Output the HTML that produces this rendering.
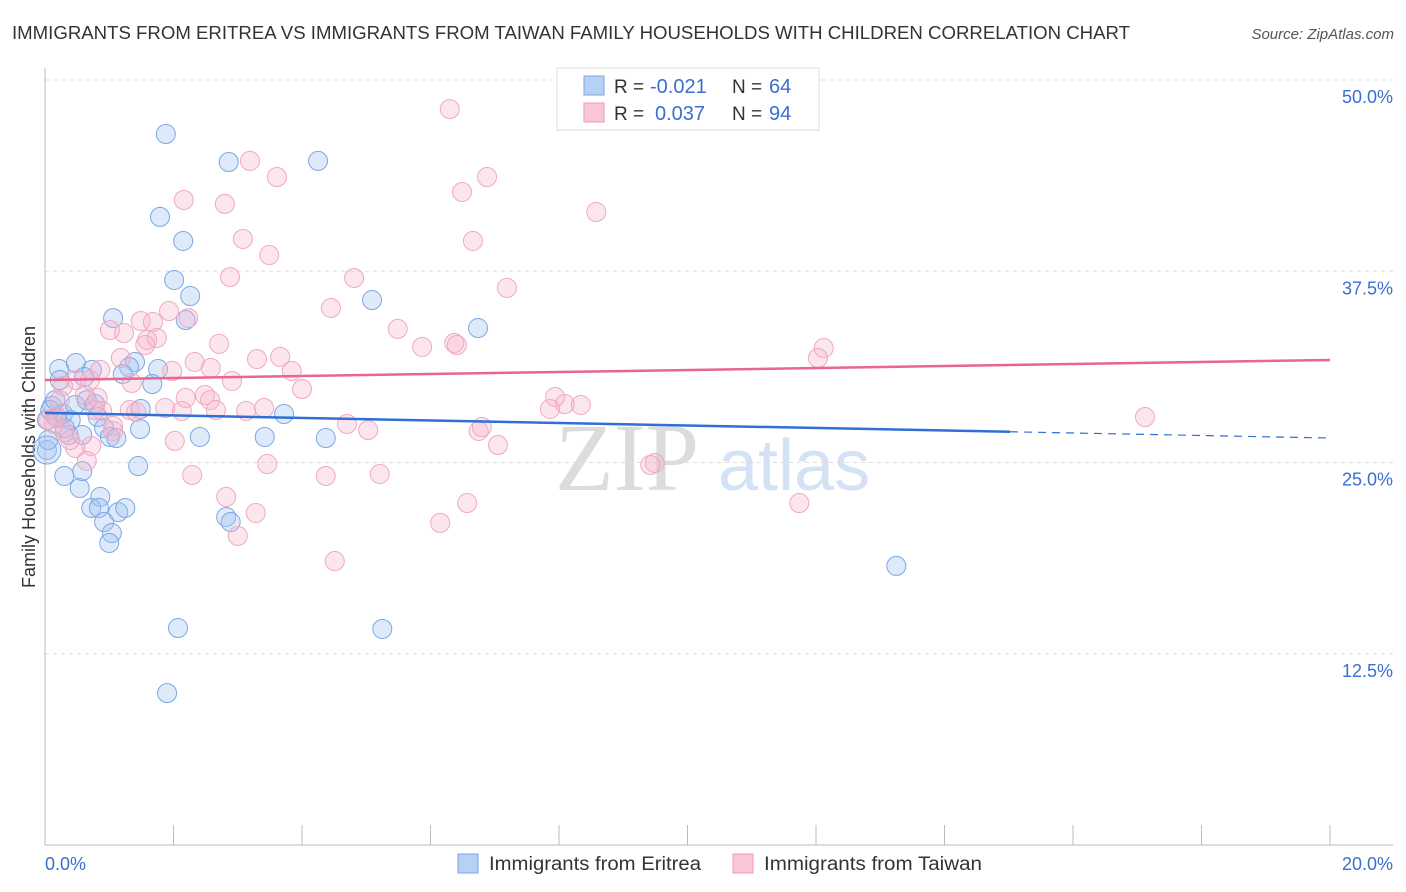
<!DOCTYPE html>
<html><head><meta charset="utf-8">
<style>
body{margin:0;background:#fff;font-family:"Liberation Sans",sans-serif;}
svg{display:block}
</style></head>
<body>
<svg id="chart" width="1406" height="892">
<text x="12" y="39" font-size="18" fill="#333" textLength="1118" lengthAdjust="spacingAndGlyphs">IMMIGRANTS FROM ERITREA VS IMMIGRANTS FROM TAIWAN FAMILY HOUSEHOLDS WITH CHILDREN CORRELATION CHART</text>
<text x="1394" y="39" font-size="15" fill="#555" font-style="italic" text-anchor="end">Source: ZipAtlas.com</text>
<text x="35" y="457" font-size="18" fill="#333" text-anchor="middle" transform="rotate(-90 35 457)">Family Households with Children</text>
<text x="555" y="490" font-size="96" fill="#dcdcdc" font-family="Liberation Serif,serif">ZIP</text>
<text x="718" y="490" font-size="72" fill="#d3e2f5">atlas</text>
<g id="grid"></g>
<g id="axes"></g>
<g id="pts"></g>
<g id="trends"></g>
<g>
<rect x="557" y="68" width="262" height="62" fill="#fff" stroke="#ddd"/>
<rect x="584" y="76" width="20" height="19" fill="#b7d1f3" stroke="#7aa6e2"/>
<rect x="584" y="103" width="20" height="19" fill="#f9c6d6" stroke="#ee9ab8"/>
<text x="614" y="93" font-size="19" fill="#333">R =</text>
<text x="650" y="93" font-size="20" fill="#3a6fd0">-0.021</text>
<text x="732" y="93" font-size="19" fill="#333">N =</text>
<text x="769" y="93" font-size="20" fill="#3a6fd0">64</text>
<text x="614" y="120" font-size="19" fill="#333">R =</text>
<text x="655" y="120" font-size="20" fill="#3a6fd0">0.037</text>
<text x="732" y="120" font-size="19" fill="#333">N =</text>
<text x="769" y="120" font-size="20" fill="#3a6fd0">94</text>
</g>
<g>
<rect x="458" y="854" width="20" height="19" fill="#b7d1f3" stroke="#7aa6e2"/>
<text x="489" y="870" font-size="19" fill="#333" textLength="212" lengthAdjust="spacingAndGlyphs">Immigrants from Eritrea</text>
<rect x="733" y="854" width="20" height="19" fill="#f9c6d6" stroke="#ee9ab8"/>
<text x="764" y="870" font-size="19" fill="#333" textLength="218" lengthAdjust="spacingAndGlyphs">Immigrants from Taiwan</text>
</g>
</svg>
<script>
const blueX=[1.88,2.86,4.25,1.79,2.15,2.01,2.26,5.09,1.06,2.19,6.74,0.22,0.48,0.73,1.40,1.31,1.76,1.21,1.67,0.23,0.61,0.11,0.03,0.28,0.40,0.47,0.65,0.78,0.82,0.92,1.01,1.11,1.49,1.48,2.41,3.42,3.72,4.37,0.37,0.58,0.03,0.30,0.54,0.86,0.72,0.84,1.14,1.25,0.92,1.04,1.00,2.82,2.89,1.45,0.58,13.25,2.07,5.25,1.90,0.08,0.19,0.31,0.05,0.16];
const blueY=[46.47,44.64,44.71,41.05,39.48,36.93,35.88,35.62,34.44,34.31,33.79,31.11,31.50,31.05,31.57,31.24,31.11,30.78,30.13,30.39,30.59,28.69,27.78,28.17,27.78,28.76,29.08,28.82,27.97,27.25,26.67,26.60,28.50,27.19,26.67,26.67,28.17,26.60,26.80,26.80,25.82,24.12,23.33,22.75,22.03,22.03,21.76,22.03,21.11,20.39,19.74,21.44,21.11,24.77,24.44,18.24,14.18,14.12,9.93,28.43,27.91,27.25,26.47,29.08];
const pinkX=[6.30,3.19,3.61,6.49,6.88,2.16,2.80,8.58,3.08,6.66,3.49,2.88,4.81,7.19,4.45,1.93,1.01,1.49,1.68,2.23,1.23,1.59,1.74,5.49,5.87,6.37,6.41,2.71,1.18,3.30,3.66,2.33,2.58,3.84,2.91,1.98,1.35,0.48,0.28,0.70,12.12,12.03,0.82,2.49,2.57,4.00,7.94,8.09,8.34,7.86,4.70,5.03,6.75,6.80,7.05,3.41,3.13,2.66,2.13,1.87,1.32,1.42,0.89,1.06,0.78,0.23,0.14,0.30,0.17,0.72,0.47,0.65,2.02,1.06,17.12,3.46,4.37,5.21,2.29,9.49,9.42,2.82,6.57,6.15,3.28,3.00,11.74,4.51,0.05,0.39,1.56,2.19,0.86,0.62];
const pinkY=[48.10,44.71,43.66,42.68,43.66,42.16,41.90,41.37,39.61,39.48,38.56,37.12,37.06,36.41,35.10,34.90,33.66,34.25,34.18,34.44,33.46,33.01,33.14,33.73,32.55,32.81,32.68,32.75,31.83,31.76,31.90,31.57,31.18,30.98,30.33,30.98,30.20,30.39,30.00,30.39,32.48,31.83,29.22,29.41,29.08,29.80,29.28,28.82,28.76,28.50,27.52,27.12,27.06,27.32,26.14,28.56,28.37,28.43,28.37,28.56,28.43,28.30,28.37,27.39,28.43,29.08,27.52,26.99,27.97,26.08,25.95,25.10,26.41,27.06,27.97,24.90,24.12,24.25,24.18,24.97,24.84,22.75,22.35,21.05,21.70,20.20,22.35,18.56,27.78,26.47,32.68,29.22,31.05,29.41];
const yTicks=[12.5,25.0,37.5,50.0];
const xTickCount=10;
const blueTrend=[28.24,26.6];
const pinkTrend=[30.39,31.70];
const blueSolidEnd=15.02;

const X=v=>45+v/20*1285;
const Y=v=>845-v/50*765;
const NS='http://www.w3.org/2000/svg';
function mk(tag,attrs,parent){const e=document.createElementNS(NS,tag);for(const k in attrs)e.setAttribute(k,attrs[k]);parent.appendChild(e);return e;}
const grid=document.getElementById('grid'),axes=document.getElementById('axes'),pts=document.getElementById('pts'),tr=document.getElementById('trends');
yTicks.forEach(t=>{
 const l=mk('line',{x1:45,x2:1393,y1:Y(t),y2:Y(t),stroke:'#ddd','stroke-dasharray':'4,4'},grid);
 
 
 const tx=mk('text',{x:1393,y:Y(t)+23,'font-size':18,fill:'#3a6fd0','text-anchor':'end'},grid);
 tx.textContent=t.toFixed(1)+'%';
 
 
});
const ax=mk('line',{x1:45,x2:1393,y1:845,y2:845,stroke:'#bbb'},axes);


const ay=mk('line',{x1:45,x2:45,y1:68,y2:845,stroke:'#bbb'},axes);


for(let i=1;i<=xTickCount;i++){
 const t=mk('line',{x1:X(i*2),x2:X(i*2),y1:825,y2:845,stroke:'#bbb'},axes);
 
 
}
const xl0=mk('text',{x:45,y:870,'font-size':18,fill:'#3a6fd0'},axes);xl0.textContent='0.0%';


const xl1=mk('text',{x:1393,y:870,'font-size':18,fill:'#3a6fd0','text-anchor':'end'},axes);xl1.textContent='20.0%';


function draw(xs,ys,fill,stroke,name){
 xs.forEach((x,i)=>{
  const c=mk('circle',{cx:X(x),cy:Y(ys[i]),r:9.5,fill:fill,stroke:stroke,'stroke-width':1},pts);
  
  
 });
}
draw(blueX,blueY,'rgba(160,196,240,0.35)','#7ba8e4','eritrea-point');
draw(pinkX,pinkY,'rgba(246,178,202,0.33)','#f0a8c2','taiwan-point');
const big=mk('circle',{cx:X(0.03),cy:Y(25.82),r:14,fill:'rgba(160,196,240,0.35)',stroke:'#7ba8e4'},pts);


const bAt=x=>blueTrend[0]+(blueTrend[1]-blueTrend[0])*x/20;
const b1=mk('line',{x1:X(0),y1:Y(bAt(0)),x2:X(blueSolidEnd),y2:Y(bAt(blueSolidEnd)),stroke:'#2f6fd6','stroke-width':2.5},tr);


const b2=mk('line',{x1:X(blueSolidEnd),y1:Y(bAt(blueSolidEnd)),x2:X(20),y2:Y(bAt(20)),stroke:'#2f6fd6','stroke-width':1.2,'stroke-dasharray':'8,6'},tr);


const p1=mk('line',{x1:X(0),y1:Y(pinkTrend[0]),x2:X(20),y2:Y(pinkTrend[1]),stroke:'#e8668f','stroke-width':2.5},tr);


</script>
</body></html>
